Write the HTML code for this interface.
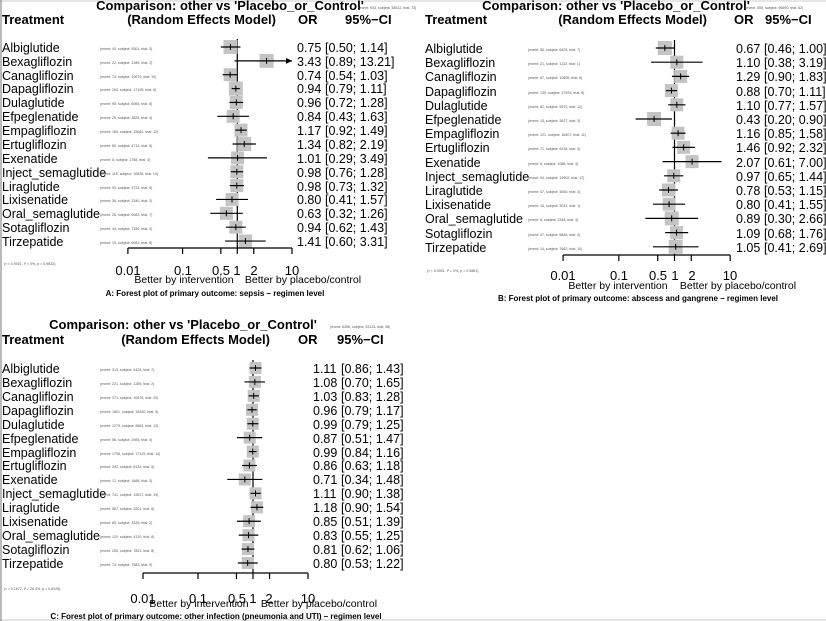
<!DOCTYPE html>
<html><head><meta charset="utf-8"><style>
html,body{margin:0;padding:0;background:#fff;}
svg{display:block;font-family:"Liberation Sans",Arial,sans-serif;}
.n{font-size:12.5px;fill:#000}
.v{font-size:12.5px;fill:#000}
.h{font-size:13px;font-weight:bold;fill:#000}
.s{font-size:3.6px;fill:#555}
.t{font-size:13px;fill:#000}
.b{font-size:10.5px;fill:#000}
.c{font-size:8px;font-weight:bold;fill:#000}
</style></head><body>
<svg id="s" width="826" height="621" viewBox="0 0 826 621" xmlns="http://www.w3.org/2000/svg">
<rect width="826" height="621" fill="#fff"/>
<rect x="0" y="0" width="826" height="2" fill="#e6e6e6"/>
<rect x="0" y="619" width="826" height="2" fill="#e6e6e6"/>
<line x1="1" y1="0" x2="1" y2="621" stroke="#777" stroke-width="1"/>
<g id="shapes"></g>

<!-- Panel A -->
<text class="h" x="230" y="10" text-anchor="middle">Comparison: other vs 'Placebo_or_Control'</text>
<text class="s" x="358" y="9">(event: 933, subject: 38512, trial: 73)</text>
<text class="h" x="2" y="24">Treatment</text>
<text class="h" x="276" y="24" text-anchor="end">(Random Effects Model)</text>
<text class="h" x="298" y="24">OR</text>
<text class="h" x="345" y="24">95%−CI</text>
<g class="n">
<text x="2" y="52">Albiglutide</text><text x="2" y="66">Bexagliflozin</text><text x="2" y="80">Canagliflozin</text><text x="2" y="93">Dapagliflozin</text><text x="2" y="107">Dulaglutide</text><text x="2" y="121">Efpeglenatide</text><text x="2" y="135">Empagliflozin</text><text x="2" y="149">Ertugliflozin</text><text x="2" y="163">Exenatide</text><text x="2" y="177">Inject_semaglutide</text><text x="2" y="191">Liraglutide</text><text x="2" y="204">Lixisenatide</text><text x="2" y="218">Oral_semaglutide</text><text x="2" y="232">Sotagliflozin</text><text x="2" y="246">Tirzepatide</text>
</g>
<g class="s">
<text x="100" y="50">(event: 40, subject: 5301, trial: 3)</text><text x="100" y="64">(event: 22, subject: 1289, trial: 2)</text><text x="100" y="78">(event: 74, subject: 10679, trial: 10)</text><text x="100" y="91">(event: 263, subject: 17195, trial: 6)</text><text x="100" y="105">(event: 95, subject: 6065, trial: 8)</text><text x="100" y="119">(event: 29, subject: 3825, trial: 4)</text><text x="100" y="133">(event: 165, subject: 15082, trial: 12)</text><text x="100" y="147">(event: 80, subject: 4714, trial: 5)</text><text x="100" y="161">(event: 6, subject: 1788, trial: 3)</text><text x="100" y="175">(event: 115, subject: 10628, trial: 14)</text><text x="100" y="189">(event: 93, subject: 9724, trial: 8)</text><text x="100" y="202">(event: 36, subject: 2340, trial: 2)</text><text x="100" y="216">(event: 26, subject: 6083, trial: 7)</text><text x="100" y="230">(event: 44, subject: 7150, trial: 3)</text><text x="100" y="244">(event: 19, subject: 6081, trial: 8)</text>
</g>
<g class="v">
<text y="52"><tspan x="297">0.75</tspan><tspan x="325">[0.50;  1.14]</tspan></text>
<text y="66"><tspan x="297">3.43</tspan><tspan x="325">[0.89; 13.21]</tspan></text>
<text y="80"><tspan x="297">0.74</tspan><tspan x="325">[0.54;  1.03]</tspan></text>
<text y="93"><tspan x="297">0.94</tspan><tspan x="325">[0.79;  1.11]</tspan></text>
<text y="107"><tspan x="297">0.96</tspan><tspan x="325">[0.72;  1.28]</tspan></text>
<text y="121"><tspan x="297">0.84</tspan><tspan x="325">[0.43;  1.63]</tspan></text>
<text y="135"><tspan x="297">1.17</tspan><tspan x="325">[0.92;  1.49]</tspan></text>
<text y="149"><tspan x="297">1.34</tspan><tspan x="325">[0.82;  2.19]</tspan></text>
<text y="163"><tspan x="297">1.01</tspan><tspan x="325">[0.29;  3.49]</tspan></text>
<text y="177"><tspan x="297">0.98</tspan><tspan x="325">[0.76;  1.28]</tspan></text>
<text y="191"><tspan x="297">0.98</tspan><tspan x="325">[0.73;  1.32]</tspan></text>
<text y="204"><tspan x="297">0.80</tspan><tspan x="325">[0.41;  1.57]</tspan></text>
<text y="218"><tspan x="297">0.63</tspan><tspan x="325">[0.32;  1.26]</tspan></text>
<text y="232"><tspan x="297">0.94</tspan><tspan x="325">[0.62;  1.43]</tspan></text>
<text y="246"><tspan x="297">1.41</tspan><tspan x="325">[0.60;  3.31]</tspan></text>
</g>
<text class="s" x="4" y="265">(τ &lt; 0.0001, I² = 0%, p = 0.9832)</text>
<g class="t" text-anchor="middle">
<text x="128" y="275">0.01</text><text x="183" y="275">0.1</text><text x="221" y="275">0.5</text><text x="237" y="275">1</text><text x="254" y="275">2</text><text x="292" y="275">10</text>
</g>
<text class="b" x="184" y="283" text-anchor="middle">Better by intervention</text>
<text class="b" x="303" y="283" text-anchor="middle">Better by placebo/control</text>
<text class="c" x="215" y="296" text-anchor="middle">A: Forest plot of primary outcome: sepsis – regimen level</text>

<!-- Panel B -->
<text class="h" x="616" y="10" text-anchor="middle">Comparison: other vs 'Placebo_or_Control'</text>
<text class="s" x="745" y="9">(event: 555, subject: 96690, trial: 62)</text>
<text class="h" x="425" y="24">Treatment</text>
<text class="h" x="707" y="24" text-anchor="end">(Random Effects Model)</text>
<text class="h" x="734" y="24">OR</text>
<text class="h" x="765" y="24">95%−CI</text>
<g class="n">
<text x="425" y="53">Albiglutide</text><text x="425" y="67">Bexagliflozin</text><text x="425" y="81">Canagliflozin</text><text x="425" y="96">Dapagliflozin</text><text x="425" y="110">Dulaglutide</text><text x="425" y="124">Efpeglenatide</text><text x="425" y="138">Empagliflozin</text><text x="425" y="152">Ertugliflozin</text><text x="425" y="167">Exenatide</text><text x="425" y="181">Inject_semaglutide</text><text x="425" y="195">Liraglutide</text><text x="425" y="209">Lixisenatide</text><text x="425" y="223">Oral_semaglutide</text><text x="425" y="238">Sotagliflozin</text><text x="425" y="252">Tirzepatide</text>
</g>
<g class="s">
<text x="528" y="51">(event: 58, subject: 6429, trial: 7)</text><text x="528" y="65">(event: 21, subject: 1132, trial: 1)</text><text x="528" y="79">(event: 87, subject: 10895, trial: 8)</text><text x="528" y="94">(event: 135, subject: 17929, trial: 8)</text><text x="528" y="108">(event: 82, subject: 5570, trial: 12)</text><text x="528" y="122">(event: 15, subject: 3627, trial: 3)</text><text x="528" y="136">(event: 121, subject: 16407, trial: 11)</text><text x="528" y="150">(event: 71, subject: 6134, trial: 3)</text><text x="528" y="165">(event: 6, subject: 1088, trial: 4)</text><text x="528" y="179">(event: 94, subject: 19902, trial: 17)</text><text x="528" y="193">(event: 47, subject: 4550, trial: 4)</text><text x="528" y="207">(event: 16, subject: 3031, trial: 1)</text><text x="528" y="221">(event: 8, subject: 2348, trial: 4)</text><text x="528" y="236">(event: 37, subject: 6845, trial: 4)</text><text x="528" y="250">(event: 14, subject: 7662, trial: 10)</text>
</g>
<g class="v">
<text y="53"><tspan x="736">0.67</tspan><tspan x="764">[0.46; 1.00]</tspan></text>
<text y="67"><tspan x="736">1.10</tspan><tspan x="764">[0.38; 3.19]</tspan></text>
<text y="81"><tspan x="736">1.29</tspan><tspan x="764">[0.90; 1.83]</tspan></text>
<text y="96"><tspan x="736">0.88</tspan><tspan x="764">[0.70; 1.11]</tspan></text>
<text y="110"><tspan x="736">1.10</tspan><tspan x="764">[0.77; 1.57]</tspan></text>
<text y="124"><tspan x="736">0.43</tspan><tspan x="764">[0.20; 0.90]</tspan></text>
<text y="138"><tspan x="736">1.16</tspan><tspan x="764">[0.85; 1.58]</tspan></text>
<text y="152"><tspan x="736">1.46</tspan><tspan x="764">[0.92; 2.32]</tspan></text>
<text y="167"><tspan x="736">2.07</tspan><tspan x="764">[0.61; 7.00]</tspan></text>
<text y="181"><tspan x="736">0.97</tspan><tspan x="764">[0.65; 1.44]</tspan></text>
<text y="195"><tspan x="736">0.78</tspan><tspan x="764">[0.53; 1.15]</tspan></text>
<text y="209"><tspan x="736">0.80</tspan><tspan x="764">[0.41; 1.55]</tspan></text>
<text y="223"><tspan x="736">0.89</tspan><tspan x="764">[0.30; 2.66]</tspan></text>
<text y="238"><tspan x="736">1.09</tspan><tspan x="764">[0.68; 1.76]</tspan></text>
<text y="252"><tspan x="736">1.05</tspan><tspan x="764">[0.41; 2.69]</tspan></text>
</g>
<text class="s" x="427" y="272">(τ &lt; 0.0001, I² = 0%, p = 0.9861)</text>
<g class="t" text-anchor="middle">
<text x="563" y="280">0.01</text><text x="619" y="280">0.1</text><text x="658" y="280">0.5</text><text x="675" y="280">1</text><text x="692" y="280">2</text><text x="730" y="280">10</text>
</g>
<text class="b" x="618" y="289" text-anchor="middle">Better by intervention</text>
<text class="b" x="738" y="289" text-anchor="middle">Better by placebo/control</text>
<text class="c" x="638" y="301" text-anchor="middle">B: Forest plot of primary outcome: abscess and gangrene – regimen level</text>

<!-- Panel C -->
<text class="h" x="183" y="329" text-anchor="middle">Comparison: other vs 'Placebo_or_Control'</text>
<text class="s" x="330" y="328">(event: 6396, subject: 53134, trial: 98)</text>
<text class="h" x="2" y="344">Treatment</text>
<text class="h" x="270" y="344" text-anchor="end">(Random Effects Model)</text>
<text class="h" x="298" y="344">OR</text>
<text class="h" x="337" y="344">95%−CI</text>
<g class="n">
<text x="2" y="373">Albiglutide</text><text x="2" y="387">Bexagliflozin</text><text x="2" y="401">Canagliflozin</text><text x="2" y="415">Dapagliflozin</text><text x="2" y="429">Dulaglutide</text><text x="2" y="443">Efpeglenatide</text><text x="2" y="457">Empagliflozin</text><text x="2" y="470">Ertugliflozin</text><text x="2" y="484">Exenatide</text><text x="2" y="498">Inject_semaglutide</text><text x="2" y="512">Liraglutide</text><text x="2" y="526">Lixisenatide</text><text x="2" y="540">Oral_semaglutide</text><text x="2" y="554">Sotagliflozin</text><text x="2" y="568">Tirzepatide</text>
</g>
<g class="s">
<text x="100" y="371">(event: 313, subject: 5429, trial: 7)</text><text x="100" y="385">(event: 221, subject: 1289, trial: 2)</text><text x="100" y="399">(event: 371, subject: 10678, trial: 20)</text><text x="100" y="413">(event: 1801, subject: 18340, trial: 9)</text><text x="100" y="427">(event: 1279, subject: 9662, trial: 13)</text><text x="100" y="441">(event: 56, subject: 2985, trial: 4)</text><text x="100" y="455">(event: 1708, subject: 17125, trial: 14)</text><text x="100" y="468">(event: 392, subject: 6134, trial: 5)</text><text x="100" y="482">(event: 12, subject: 1688, trial: 3)</text><text x="100" y="496">(event: 741, subject: 19617, trial: 19)</text><text x="100" y="510">(event: 567, subject: 3201, trial: 8)</text><text x="100" y="524">(event: 85, subject: 3339, trial: 2)</text><text x="100" y="538">(event: 120, subject: 4120, trial: 8)</text><text x="100" y="552">(event: 255, subject: 7821, trial: 8)</text><text x="100" y="566">(event: 74, subject: 7583, trial: 9)</text>
</g>
<g class="v">
<text y="373"><tspan x="313">1.11</tspan><tspan x="341">[0.86; 1.43]</tspan></text>
<text y="387"><tspan x="313">1.08</tspan><tspan x="341">[0.70; 1.65]</tspan></text>
<text y="401"><tspan x="313">1.03</tspan><tspan x="341">[0.83; 1.28]</tspan></text>
<text y="415"><tspan x="313">0.96</tspan><tspan x="341">[0.79; 1.17]</tspan></text>
<text y="429"><tspan x="313">0.99</tspan><tspan x="341">[0.79; 1.25]</tspan></text>
<text y="443"><tspan x="313">0.87</tspan><tspan x="341">[0.51; 1.47]</tspan></text>
<text y="457"><tspan x="313">0.99</tspan><tspan x="341">[0.84; 1.16]</tspan></text>
<text y="470"><tspan x="313">0.86</tspan><tspan x="341">[0.63; 1.18]</tspan></text>
<text y="484"><tspan x="313">0.71</tspan><tspan x="341">[0.34; 1.48]</tspan></text>
<text y="498"><tspan x="313">1.11</tspan><tspan x="341">[0.90; 1.38]</tspan></text>
<text y="512"><tspan x="313">1.18</tspan><tspan x="341">[0.90; 1.54]</tspan></text>
<text y="526"><tspan x="313">0.85</tspan><tspan x="341">[0.51; 1.39]</tspan></text>
<text y="540"><tspan x="313">0.83</tspan><tspan x="341">[0.55; 1.25]</tspan></text>
<text y="554"><tspan x="313">0.81</tspan><tspan x="341">[0.62; 1.06]</tspan></text>
<text y="568"><tspan x="313">0.80</tspan><tspan x="341">[0.53; 1.22]</tspan></text>
</g>
<text class="s" x="4" y="590">(τ = 0.1672, I² = 26.4%, p = 0.8128)</text>
<g class="t" text-anchor="middle">
<text x="143" y="603">0.01</text><text x="198" y="603">0.1</text><text x="237" y="603">0.5</text><text x="253" y="603">1</text><text x="269" y="603">2</text><text x="308" y="603">10</text>
</g>
<text class="b" x="199" y="607" text-anchor="middle">Better by intervention</text>
<text class="b" x="319" y="607" text-anchor="middle">Better by placebo/control</text>
<text class="c" x="216" y="619" text-anchor="middle">C: Forest plot of primary outcome: other infection (pneumonia and UTI) – regimen level</text>
</svg>
<script>
(function(){
var NS="http://www.w3.org/2000/svg",g=document.getElementById("shapes");
function el(t,a){var e=document.createElementNS(NS,t);for(var k in a)e.setAttribute(k,a[k]);g.appendChild(e);return e;}
function panel(p){
  var X=function(v){return p.x1+p.dec*Math.log10(v);};
  var lo=X(0.01),hi=X(10);
  el("line",{x1:X(1),y1:p.y0-8,x2:X(1),y2:p.ax,stroke:"#000","stroke-width":1.2});
  p.d.forEach(function(r,i){
    var y=p.y0+p.sp*i, s=r[3]||13;
    el("rect",{x:X(r[0])-s/2,y:y-s/2,width:s,height:s,fill:"#c4c4c4"});
    var a=X(r[1]),b=Math.min(X(r[2]),hi);
    el("line",{x1:a,y1:y,x2:b,y2:y,stroke:"#000","stroke-width":1.2});
    el("line",{x1:X(r[0]),y1:y-3,x2:X(r[0]),y2:y+3,stroke:"#000","stroke-width":1});
    if(X(r[2])>hi){el("path",{d:"M"+hi+" "+y+" l-6 -3 l0 6 z",fill:"#000"});}
  });
  el("line",{x1:lo,y1:p.ax,x2:hi,y2:p.ax,stroke:"#000","stroke-width":1.2});
  [0.01,0.1,0.5,1,2,10].forEach(function(v){el("line",{x1:X(v),y1:p.ax,x2:X(v),y2:p.ax+6,stroke:"#000","stroke-width":1.2});});
}
panel({x1:237.3,dec:54.7,y0:47,sp:13.86,ax:248,d:[[.75,.5,1.14,14],[3.43,.89,13.21,14],[.74,.54,1.03,13],[.94,.79,1.11,14],[.96,.72,1.28,13],[.84,.43,1.63,13],[1.17,.92,1.49,13],[1.34,.82,2.19,14],[1.01,.29,3.49,13],[.98,.76,1.28,13],[.98,.73,1.32,13],[.8,.41,1.57,13],[.63,.32,1.26,13],[.94,.62,1.43,13],[1.41,.6,3.31,13]]});
panel({x1:674.5,dec:55.7,y0:48,sp:14.2,ax:255,d:[[.67,.46,1,14],[1.1,.38,3.19,13],[1.29,.9,1.83,13],[.88,.7,1.11,13],[1.1,.77,1.57,13],[.43,.2,.9,14],[1.16,.85,1.58,13],[1.46,.92,2.32,13],[2.07,.61,7,13],[.97,.65,1.44,13],[.78,.53,1.15,13],[.8,.41,1.55,13],[.89,.3,2.66,14],[1.09,.68,1.76,13],[1.05,.41,2.69,14]]});
panel({x1:253,dec:55,y0:368,sp:13.93,ax:573,d:[[1.11,.86,1.43,12],[1.08,.7,1.65,12],[1.03,.83,1.28,12],[.96,.79,1.17,12],[.99,.79,1.25,12],[.87,.51,1.47,12],[.99,.84,1.16,12],[.86,.63,1.18,12],[.71,.34,1.48,12],[1.11,.9,1.38,12],[1.18,.9,1.54,12],[.85,.51,1.39,12],[.83,.55,1.25,12],[.81,.62,1.06,12],[.8,.53,1.22,12]]});
})();
</script>
</body></html>
